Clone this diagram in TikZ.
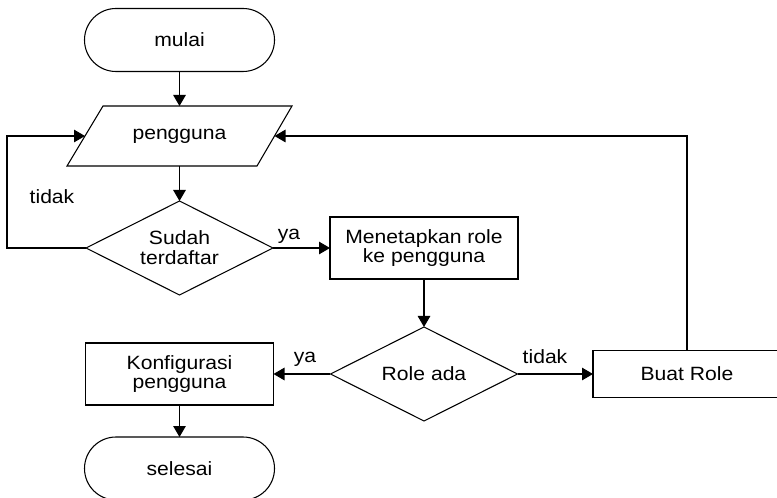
\documentclass[tikz,border=0pt]{standalone}
\usepackage{fontspec}
\setmainfont{Liberation Sans}[FakeStretch=1.1]
\usetikzlibrary{arrows.meta,shapes.geometric}

\begin{document}
\begin{tikzpicture}[
    x=0.75pt, y=-0.75pt,
    every node/.style={font=\fontsize{14.4}{14.8}\selectfont, outer sep=0pt, align=center},
    line/.style={draw=black, line width=0.8pt},
    arrow/.style={line, -{Triangle[length=8.25pt,width=9.4pt]}},
    terminal/.style={line, rectangle, rounded corners=23.6pt,
        minimum width=142.5pt, minimum height=47.25pt},
    decision/.style={line, diamond, aspect=2, inner sep=0pt,
        minimum width=140.25pt, minimum height=70.5pt},
    process/.style={line, rectangle, minimum width=141pt, minimum height=46.5pt},
    lbl/.style={inner sep=1pt}
]
\useasboundingbox (0,0) rectangle (777,498);

% shapes
\node[terminal] (mulai)   at (179.5,40)  {mulai};
% input/output parallelogram, with the midpoints of its slanted sides
\draw[line] (103,106) -- (292,106) -- (257,166) -- (67,166) -- cycle;
\node (peng) at (179.5,136) {pengguna};
\coordinate (pengW) at (85,136);
\coordinate (pengE) at (274.5,136);
\coordinate (pengN) at (179.5,106);
\coordinate (pengS) at (179.5,166);
\node[decision] (d1)      at (179.5,248) {Sudah\\terdaftar};
\node[process]  (tetap)   at (424,248)   {Menetapkan role\\ke pengguna};
\node[decision] (d2)      at (424,374)   {Role ada};
\node[process]  (konf)    at (179.5,374) {Konfigurasi\\pengguna};
\node[process, minimum height=35.25pt] (buat) at (687,374) {Buat Role};
\node[terminal] (selesai) at (179.5,468.5) {selesai};

% connector labels
\node[lbl] (tidak1) at (52,197)  {tidak};
\node[lbl] (ya1)    at (289,236) {ya};
\node[lbl] (ya2)    at (305,359) {ya};
\node[lbl] (tidak2) at (545,357) {tidak};

% connectors
\draw[arrow] (mulai) -- (pengN);
\draw[arrow] (pengS) -- (d1);
\draw[arrow] (d1) -- (tetap);
\draw[arrow] (tetap) -- (d2);
\draw[arrow] (d2) -- (konf);
\draw[arrow] (d2) -- (buat);
\draw[arrow] (konf) -- (selesai);
\draw[arrow] (d1.west) -- ++(-79,0) |- (pengW);
\draw[arrow] (buat.north) |- (pengE);
\end{tikzpicture}
\end{document}
